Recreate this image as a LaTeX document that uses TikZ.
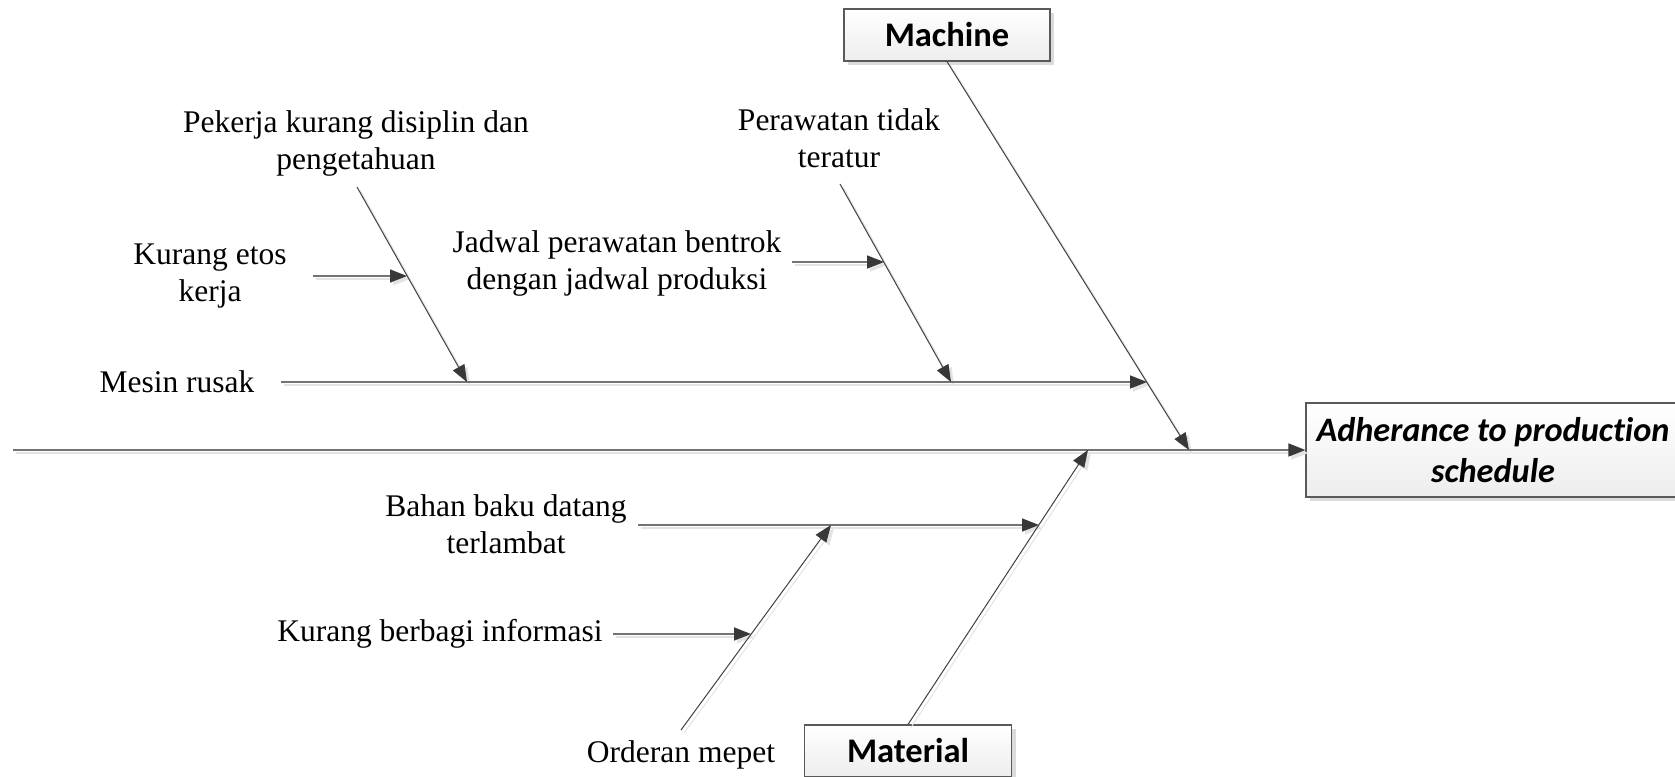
\documentclass[tikz,border=0pt]{standalone}
\usepackage{fontspec}
\setmainfont{Liberation Serif}
\newfontfamily\boxfont[Ligatures=NoCommon]{Carlito}
\usetikzlibrary{arrows.meta,shadows}

% all connectors of the fishbone; #1 adds a style (used for the soft shadow pass)
\newcommand\fishbones[1]{%
  \draw[rib,headed,#1] (spineS) -- (effect.west);
  \draw[bone,headed,#1] (machine.south) -- (mJ);
  \draw[bone,headed,#1] (material.north) -- (tJ);
  \draw[rib,headed,#1] (mesinS) -- (mesinE);
  \draw[bone,headed,#1] (pekS) -- (pekE);
  \draw[rib,headed,#1] (etosS) -- (etosE);
  \draw[bone,headed,#1] (rawS) -- (rawE);
  \draw[rib,headed,#1] (jadS) -- (jadE);
  \draw[rib,headed,#1] (bahS) -- (bahE);
  \draw[bone,headed,#1] (ordS) -- (ordE);
  \draw[rib,headed,#1] (infS) -- (infE);
}

\begin{document}
\begin{tikzpicture}[x=1pt,y=-1pt,
  lbl/.style={font=\fontsize{31.5}{37}\selectfont, align=center, inner sep=0pt},
  catbox/.style={draw=black!65, line width=1.2pt, top color=white, bottom color=black!7,
    minimum width=206pt, minimum height=52pt, inner sep=0pt,
    drop shadow={shadow xshift=4pt, shadow yshift=-4pt, fill=black!14, opacity=1},
    font=\boxfont\bfseries\fontsize{34.5}{40}\selectfont},
  bone/.style={draw=black!75, line width=1pt},
  rib/.style={draw=black!55, line width=1.6pt},
  headed/.style={-{Triangle[length=17pt,width=13pt,color=black!78]}},
  shadowed/.style={draw=black!11, -{Triangle[length=17pt,width=13pt,color=black!11]}},
]
\useasboundingbox (0,0) rectangle (1675,776);

% category and effect boxes
\node[catbox] (machine) at (947,35) {Machine};
\node[catbox, minimum width=207pt] (material) at (908,751) {Material};
\node[catbox, minimum width=374pt, minimum height=94pt,
      font=\boxfont\bfseries\itshape\fontsize{34.3}{41}\selectfont, align=center]
  (effect) at (1493,450) {Adherance to production\\schedule};

% cause labels
\node[lbl] (pekerja) at (356,143.5) {Pekerja kurang disiplin dan\\pengetahuan};
\node[lbl] (etos) at (210,276) {Kurang etos\\kerja};
\node[lbl] (mesin) at (177,382) {Mesin rusak};
\node[lbl] (rawat) at (839,138.5) {Perawatan tidak\\teratur};
\node[lbl] (jadwal) at (617,263.5) {Jadwal perawatan bentrok\\dengan jadwal produksi};
\node[lbl] (bahan) at (506,524) {Bahan baku datang\\terlambat};
\node[lbl] (info) at (440,634) {Kurang berbagi informasi};
\node[lbl] (order) at (681,755) {Orderan mepet};

% end points of the bones and ribs
\coordinate (spineS) at (13,450);
\coordinate (mJ) at (1189,450);
\coordinate (tJ) at (1088,450);
\coordinate (mesinS) at (281,382);
\coordinate (mesinE) at (1147,382);
\coordinate (pekS) at (357,187);
\coordinate (pekE) at (467,382);
\coordinate (etosS) at (313,276);
\coordinate (etosE) at (407,276);
\coordinate (rawS) at (840,184);
\coordinate (rawE) at (951,382);
\coordinate (jadS) at (792,262);
\coordinate (jadE) at (884,262);
\coordinate (bahS) at (638,525);
\coordinate (bahE) at (1039,525);
\coordinate (ordS) at (681,730);
\coordinate (ordE) at (831,525);
\coordinate (infS) at (613,634);
\coordinate (infE) at (751,634);

% soft shadow pass, then the connectors themselves
\begin{scope}[transform canvas={xshift=3pt,yshift=-3pt}]
  \fishbones{shadowed}
\end{scope}
\fishbones{}
\end{tikzpicture}
\end{document}
